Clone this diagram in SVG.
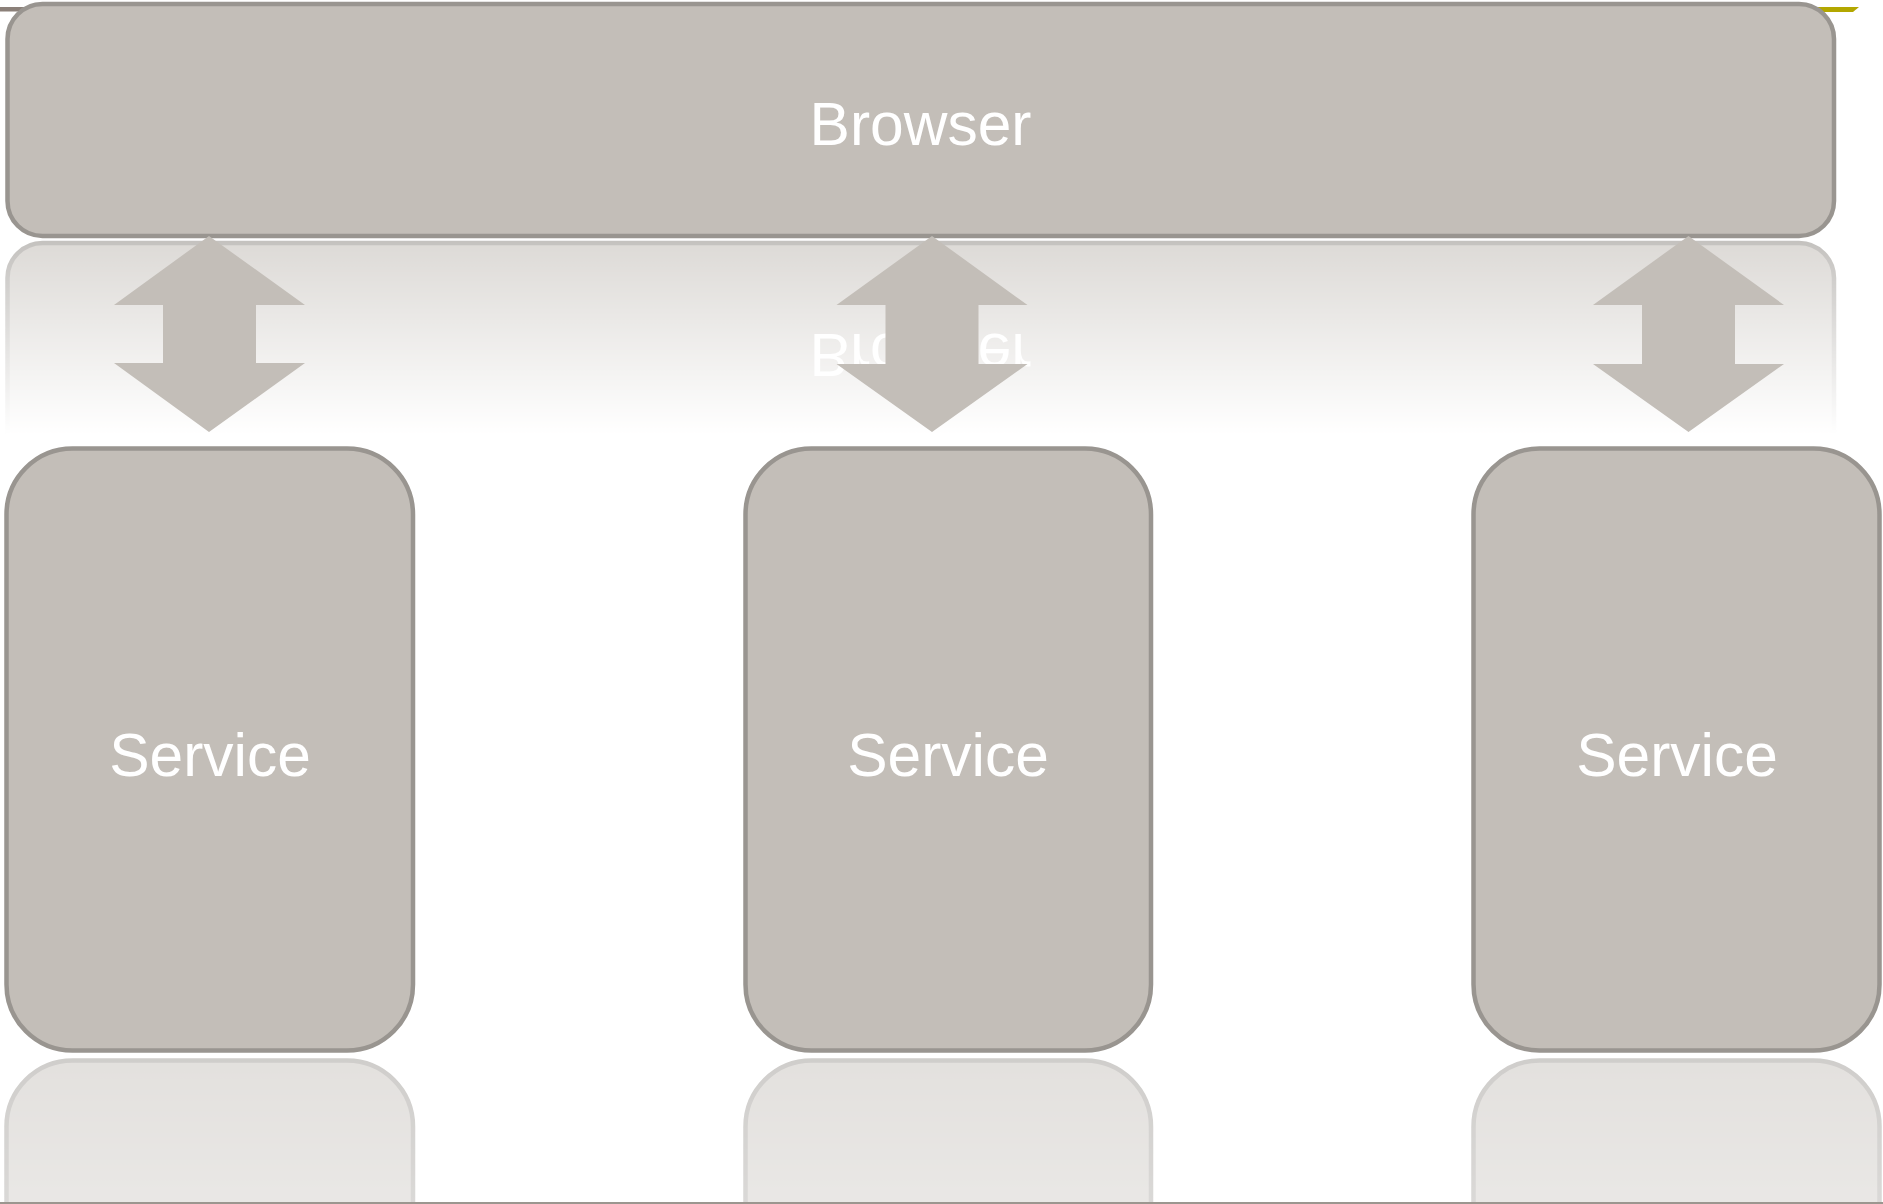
<svg xmlns="http://www.w3.org/2000/svg" xmlns:xlink="http://www.w3.org/1999/xlink" width="1883" height="1204" viewBox="0 0 1883 1204">
  <style>
    .box { fill: #c3beb8; stroke: #999590; stroke-width: 4.5; }
    .label { font-family: "Liberation Sans", Arial, sans-serif; font-size: 60.5px; fill: #ffffff; text-anchor: middle; }
    .arrow { fill: #c3beb8; stroke: none; }
  </style>
  <defs>
    <!-- fade for the mirrored browser panel -->
    <linearGradient id="fadeTop" gradientUnits="userSpaceOnUse" x1="0" y1="240" x2="0" y2="435">
      <stop offset="0" stop-color="#fff" stop-opacity="0.58"/>
      <stop offset="1" stop-color="#fff" stop-opacity="0"/>
    </linearGradient>
    <mask id="maskTop" maskUnits="userSpaceOnUse" x="0" y="238" width="1883" height="250">
      <rect x="0" y="238" width="1883" height="250" fill="url(#fadeTop)"/>
    </mask>
    <!-- fade for the mirrored service boxes -->
    <linearGradient id="fadeBottom" gradientUnits="userSpaceOnUse" x1="0" y1="1056" x2="0" y2="1700">
      <stop offset="0" stop-color="#fff" stop-opacity="0.47"/>
      <stop offset="1" stop-color="#fff" stop-opacity="0"/>
    </linearGradient>
    <mask id="maskBottom" maskUnits="userSpaceOnUse" x="0" y="1055" width="1883" height="149">
      <rect x="0" y="1055" width="1883" height="149" fill="url(#fadeBottom)"/>
    </mask>
  </defs>

  <!-- header strip behind the browser panel -->
  <rect x="0" y="7" width="1500" height="4.5" fill="#8b8079"/>
  <polygon points="1500,7 1859,7 1853,12 1500,12" fill="#b3a700"/>

  <!-- mirrored browser panel -->
  <g id="browser-reflection" mask="url(#maskTop)">
    <g transform="translate(0,479) scale(1,-1)">
      <rect class="box" x="7.5" y="4" width="1826.5" height="232" rx="35" ry="35"/>
      <text class="label" x="920.5" y="145">Browser</text>
    </g>
  </g>

  <!-- mirrored service boxes -->
  <g id="service-reflections" mask="url(#maskBottom)">
    <g transform="translate(0,2111) scale(1,-1)">
      <rect class="box" x="6.5" y="448.5" width="406.5" height="602" rx="66" ry="66"/>
      <rect class="box" x="745.5" y="448.5" width="405.5" height="602" rx="66" ry="66"/>
      <rect class="box" x="1473.5" y="448.5" width="406" height="602" rx="66" ry="66"/>
    </g>
  </g>

  <g id="browser">
    <rect class="box" x="7.5" y="4" width="1826.5" height="232" rx="35" ry="35"/>
    <text class="label" x="920.5" y="145">Browser</text>
  </g>

  <g id="service-1">
    <rect class="box" x="6.5" y="448.5" width="406.5" height="602" rx="66" ry="66"/>
    <text class="label" x="210" y="776">Service</text>
  </g>
  <g id="service-2">
    <rect class="box" x="745.5" y="448.5" width="405.5" height="602" rx="66" ry="66"/>
    <text class="label" x="948" y="776">Service</text>
  </g>
  <g id="service-3">
    <rect class="box" x="1473.5" y="448.5" width="406" height="602" rx="66" ry="66"/>
    <text class="label" x="1677" y="776">Service</text>
  </g>

  <!-- two-way block arrows between browser and services -->
  <g id="connectors">
    <polygon class="arrow" points="209,236 305,305 256,305 256,363 305,363 209,432 114,363 163,363 163,305 114,305"/>
    <polygon class="arrow" points="932,236 1027.5,305 978.5,305 978.5,364 1027.5,364 932,432 836.5,364 885.5,364 885.5,305 836.5,305"/>
    <polygon class="arrow" points="1688.5,236 1784,305 1735,305 1735,364 1784,364 1688.5,432 1593,364 1642,364 1642,305 1593,305"/>
  </g>

  <!-- floor line -->
  <line x1="0" y1="1203" x2="1883" y2="1203" stroke="#9b968f" stroke-width="2"/>
</svg>
